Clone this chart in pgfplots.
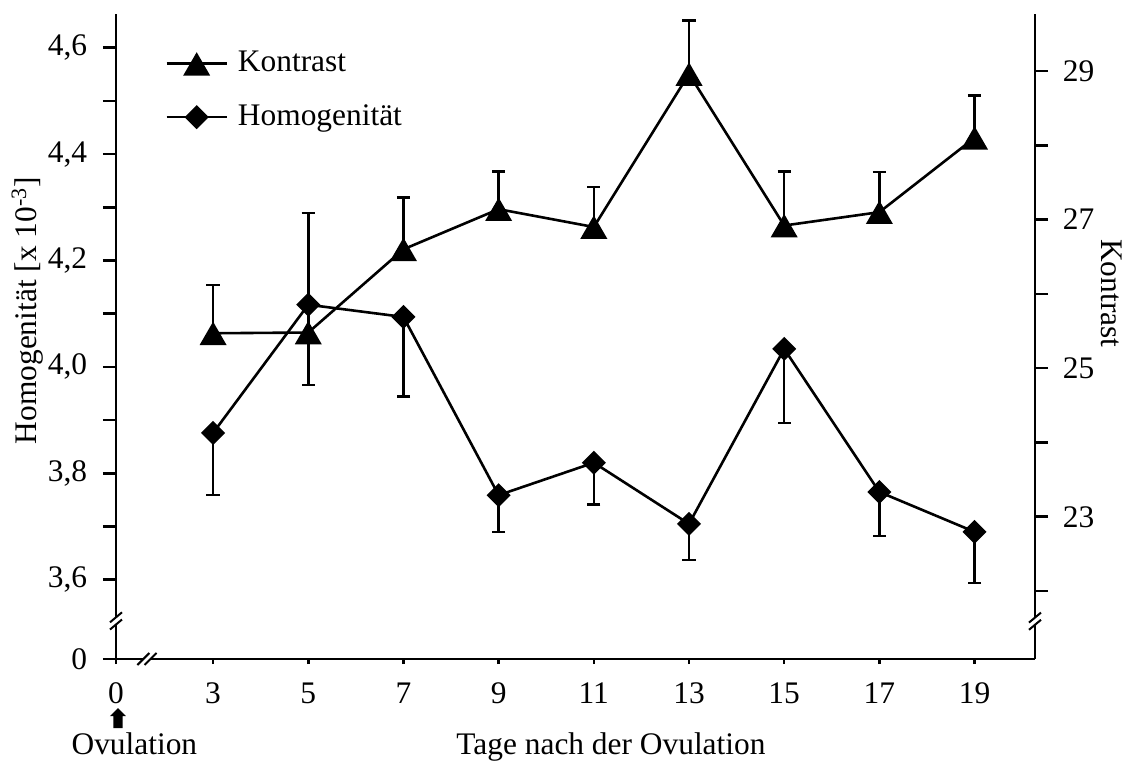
\documentclass[border=0pt]{standalone}
\usepackage{fontspec}
\setmainfont{Liberation Serif}
\usepackage{pgfplots}
\pgfplotsset{compat=1.18}

\pgfplotsset{
  base/.style={
    at={(0pt,0pt)}, anchor=south west,
    scale only axis, width=459.5pt, height=322.5pt,
    xmin=0.96, xmax=20.27, clip=false,
    tick align=outside, major tick length=6.5pt,
    axis line style={line width=1.3pt,-},
    tick style={black, line width=1.3pt},
    /pgf/number format/assume math mode=true,
  },
  errstyle/.style={
    error bars/error bar style={line width=1.3pt},
    error bars/error mark options={rotate=90, mark size=3.3pt, line width=1.3pt},
  },
}

\begin{document}
\fontsize{15.7pt}{18pt}\selectfont
\begin{tikzpicture}
\useasboundingbox (-58pt,-51.5pt) rectangle (507pt,329.5pt);

% left axis: Homogenitaet
\begin{axis}[base,
  axis x line*=bottom, axis y line*=left, tick pos=left,
  ymin=3.451, ymax=4.6635,
  xtick=\empty,
  extra x ticks={0.96,3,5,7,9,11,13,15,17,19},
  extra x tick labels={0,3,5,7,9,11,13,15,17,19},
  extra x tick style={major tick length=2.5pt, xticklabel style={yshift=-4pt}},
  ytick={3.451,3.6,3.7,3.8,3.9,4.0,4.1,4.2,4.3,4.4,4.5,4.6},
  yticklabels={0,{3,6},{},{3,8},{},{4,0},{},{4,2},{},{4,4},{},{4,6}},
  yticklabel style={xshift=-2.5pt},
]
\addplot[black, line width=1.3pt, mark=square*, mark size=3.6pt,
  mark options={solid, rotate=45}, errstyle,
  error bars/.cd, y dir=minus, y explicit]
coordinates {
  (3,3.876)  +- (0,0.117)
  (5,4.117)  +- (0,0.151)
  (7,4.094)  +- (0,0.149)
  (9,3.759)  +- (0,0.069)
  (11,3.820) +- (0,0.079)
  (13,3.705) +- (0,0.068)
  (15,4.034) +- (0,0.139)
  (17,3.765) +- (0,0.083)
  (19,3.690) +- (0,0.096)
};
\coordinate (O) at (axis cs:0.96,3.451);
\coordinate (BL) at (axis cs:0.96,3.5226);
\coordinate (BX) at (axis cs:1.61,3.451);
\node[rotate=90] at (axis description cs:-0.0963,0.54) {Homogenität [x 10\textsuperscript{-3}]};
\node[anchor=base] at (axis description cs:0.5386,-0.1488) {Tage nach der Ovulation};
\node[anchor=base] at (axis description cs:0.020,-0.1488) {Ovulation};
\end{axis}

% right axis: Kontrast
\begin{axis}[base,
  axis x line=none, axis y line*=right, ytick pos=right,
  xtick=\empty,
  ymin=21.086, ymax=29.767,
  ytick={22,23,24,25,26,27,28,29},
  yticklabels={{},23,{},25,{},27,{},29},
  yticklabel style={xshift=2pt},
  legend style={at={(axis description cs:0.0533,0.943)}, anchor=north west,
    draw=none, fill=none, inner sep=0pt, row sep=14pt, column sep=5pt,
    nodes={inner sep=0pt}},
  legend cell align=left,
  legend image code/.code={\draw[mark repeat=2,mark phase=2,#1]
    plot coordinates {(0pt,0pt) (15pt,0pt) (30pt,0pt)};},
]
\addplot[black, line width=1.3pt, mark=triangle*, mark size=6.5pt,
  mark options={solid, yshift=-2pt}, errstyle,
  error bars/.cd, y dir=plus, y explicit]
coordinates {
  (3,25.47)  +- (0,0.65)
  (5,25.48)  +- (0,1.61)
  (7,26.60)  +- (0,0.70)
  (9,27.14)  +- (0,0.51)
  (11,26.90) +- (0,0.54)
  (13,28.96) +- (0,0.72)
  (15,26.92) +- (0,0.73)
  (17,27.10) +- (0,0.54)
  (19,28.10) +- (0,0.57)
};
\addlegendentry{Kontrast}
\addlegendimage{black, line width=1.3pt, mark=square*, mark size=3.6pt, mark options={solid, rotate=45}}
\addlegendentry{Homogenität}
\coordinate (BR) at (axis cs:20.27,21.595);
\node[rotate=-90] at (axis description cs:1.0833,0.567) {Kontrast};
\end{axis}

% axis breaks
\foreach \p in {BL,BR}{
  \fill[white] ([xshift=-1.5pt,yshift=-1.8pt]\p) rectangle ([xshift=1.5pt,yshift=1.8pt]\p);
  \draw[line width=1pt] ([xshift=-3pt,yshift=-4.3pt]\p) -- ([xshift=3pt,yshift=0.7pt]\p);
  \draw[line width=1pt] ([xshift=-3pt,yshift=-0.7pt]\p) -- ([xshift=3pt,yshift=4.3pt]\p);
}
\fill[white] ([xshift=-1.8pt,yshift=-1.5pt]BX) rectangle ([xshift=1.8pt,yshift=1.5pt]BX);
\draw[line width=1pt] ([xshift=-4.8pt,yshift=-3pt]BX) -- ([xshift=1.2pt,yshift=3pt]BX);
\draw[line width=1pt] ([xshift=-1.2pt,yshift=-3pt]BX) -- ([xshift=4.8pt,yshift=3pt]BX);

% ovulation arrow
\fill[black] ([xshift=1pt,yshift=-24.5pt]O) -- ++(4pt,-4pt) -- ++(-1.7pt,0pt)
  -- ++(0pt,-6pt) -- ++(-4.6pt,0pt) -- ++(0pt,6pt) -- ++(-1.7pt,0pt) -- cycle;
\end{tikzpicture}
\end{document}
